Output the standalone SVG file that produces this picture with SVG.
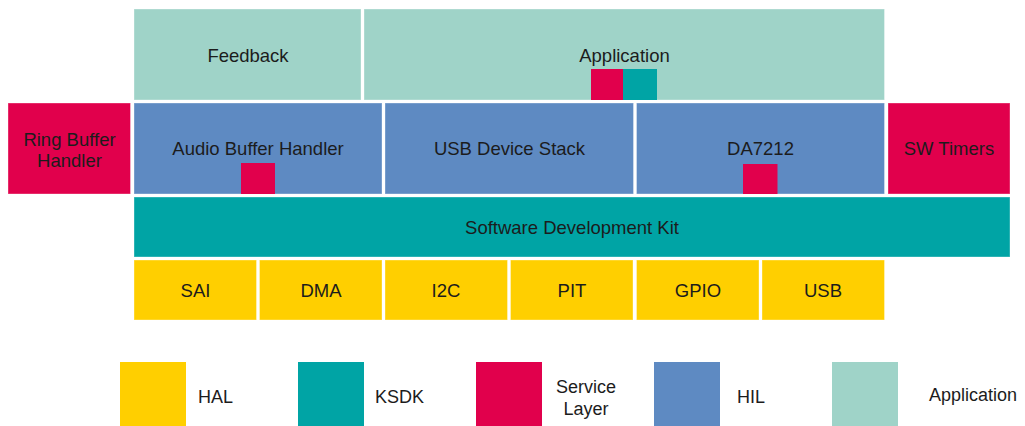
<svg xmlns="http://www.w3.org/2000/svg" width="1025" height="426" viewBox="0 0 1025 426">
  <style>
    .app { fill: #9FD3C8; }
    .hil { fill: #5E8AC2; }
    .svc { fill: #E1004C; }
    .sdk { fill: #00A4A5; }
    .hal { fill: #FFCF00; }
    .box { stroke: #ffffff; stroke-opacity: 0.35; stroke-width: 1; }
    text { font-family: "Liberation Sans", Arial, sans-serif; fill: #1c1c1c; }
    .lbl { font-size: 18.5px; text-anchor: middle; dominant-baseline: central; }
    .leg { font-size: 18px; dominant-baseline: central; }
  </style>
  <rect width="1025" height="426" fill="#ffffff"/>

  <!-- Application layer -->
  <g id="feedback">
    <rect class="app box" x="134" y="9" width="227" height="91"/>
    <text class="lbl" x="248" y="55">Feedback</text>
  </g>
  <g id="application">
    <rect class="app box" x="364" y="9" width="520.5" height="91"/>
    <text class="lbl" x="624.5" y="55">Application</text>
    <rect class="svc" x="591" y="69" width="32" height="31"/>
    <rect class="sdk" x="623" y="69" width="34" height="31"/>
  </g>

  <!-- Service / HIL row -->
  <g id="ring-buffer-handler">
    <rect class="svc box" x="8" y="103" width="122.5" height="91"/>
    <text class="lbl" x="69.5" y="139">Ring Buffer</text>
    <text class="lbl" x="69.5" y="160.5">Handler</text>
  </g>
  <g id="audio-buffer-handler">
    <rect class="hil box" x="134" y="103" width="248" height="91"/>
    <text class="lbl" x="258" y="148.5">Audio Buffer Handler</text>
    <rect class="svc" x="241" y="163" width="34" height="31"/>
  </g>
  <g id="usb-device-stack">
    <rect class="hil box" x="385" y="103" width="248.5" height="91"/>
    <text class="lbl" x="509.5" y="148.5">USB Device Stack</text>
  </g>
  <g id="da7212">
    <rect class="hil box" x="636.5" y="103" width="248" height="91"/>
    <text class="lbl" x="760.5" y="148.5">DA7212</text>
    <rect class="svc" x="743" y="164" width="34.5" height="30"/>
  </g>
  <g id="sw-timers">
    <rect class="svc box" x="888" y="103" width="122" height="91"/>
    <text class="lbl" x="949" y="148.5">SW Timers</text>
  </g>

  <!-- SDK layer -->
  <g id="sdk">
    <rect class="sdk box" x="134" y="197" width="876" height="60"/>
    <text class="lbl" x="572" y="227">Software Development Kit</text>
  </g>

  <!-- HAL layer -->
  <g id="hal-sai">
    <rect class="hal box" x="134" y="260" width="122.5" height="60"/>
    <text class="lbl" x="195.5" y="290">SAI</text>
  </g>
  <g id="hal-dma">
    <rect class="hal box" x="259.5" y="260" width="122.5" height="60"/>
    <text class="lbl" x="321" y="290">DMA</text>
  </g>
  <g id="hal-i2c">
    <rect class="hal box" x="385" y="260" width="122.5" height="60"/>
    <text class="lbl" x="446" y="290">I2C</text>
  </g>
  <g id="hal-pit">
    <rect class="hal box" x="510.5" y="260" width="122.5" height="60"/>
    <text class="lbl" x="572" y="290">PIT</text>
  </g>
  <g id="hal-gpio">
    <rect class="hal box" x="636.5" y="260" width="122.5" height="60"/>
    <text class="lbl" x="698" y="290">GPIO</text>
  </g>
  <g id="hal-usb">
    <rect class="hal box" x="762" y="260" width="122.5" height="60"/>
    <text class="lbl" x="823" y="290">USB</text>
  </g>

  <!-- Legend -->
  <g id="legend">
    <rect class="hal" x="120" y="362" width="66" height="64"/>
    <text class="leg" x="198" y="397">HAL</text>
    <rect class="sdk" x="298" y="362" width="66" height="64"/>
    <text class="leg" x="375" y="397">KSDK</text>
    <rect class="svc" x="476" y="362" width="66" height="64"/>
    <text class="leg" x="586" y="387" text-anchor="middle">Service</text>
    <text class="leg" x="586" y="409" text-anchor="middle">Layer</text>
    <rect class="hil" x="654" y="362" width="66" height="64"/>
    <text class="leg" x="737" y="397">HIL</text>
    <rect class="app" x="832" y="362" width="66" height="64"/>
    <text class="leg" x="929" y="395">Application</text>
  </g>
  <g id="connectors"/>
</svg>
